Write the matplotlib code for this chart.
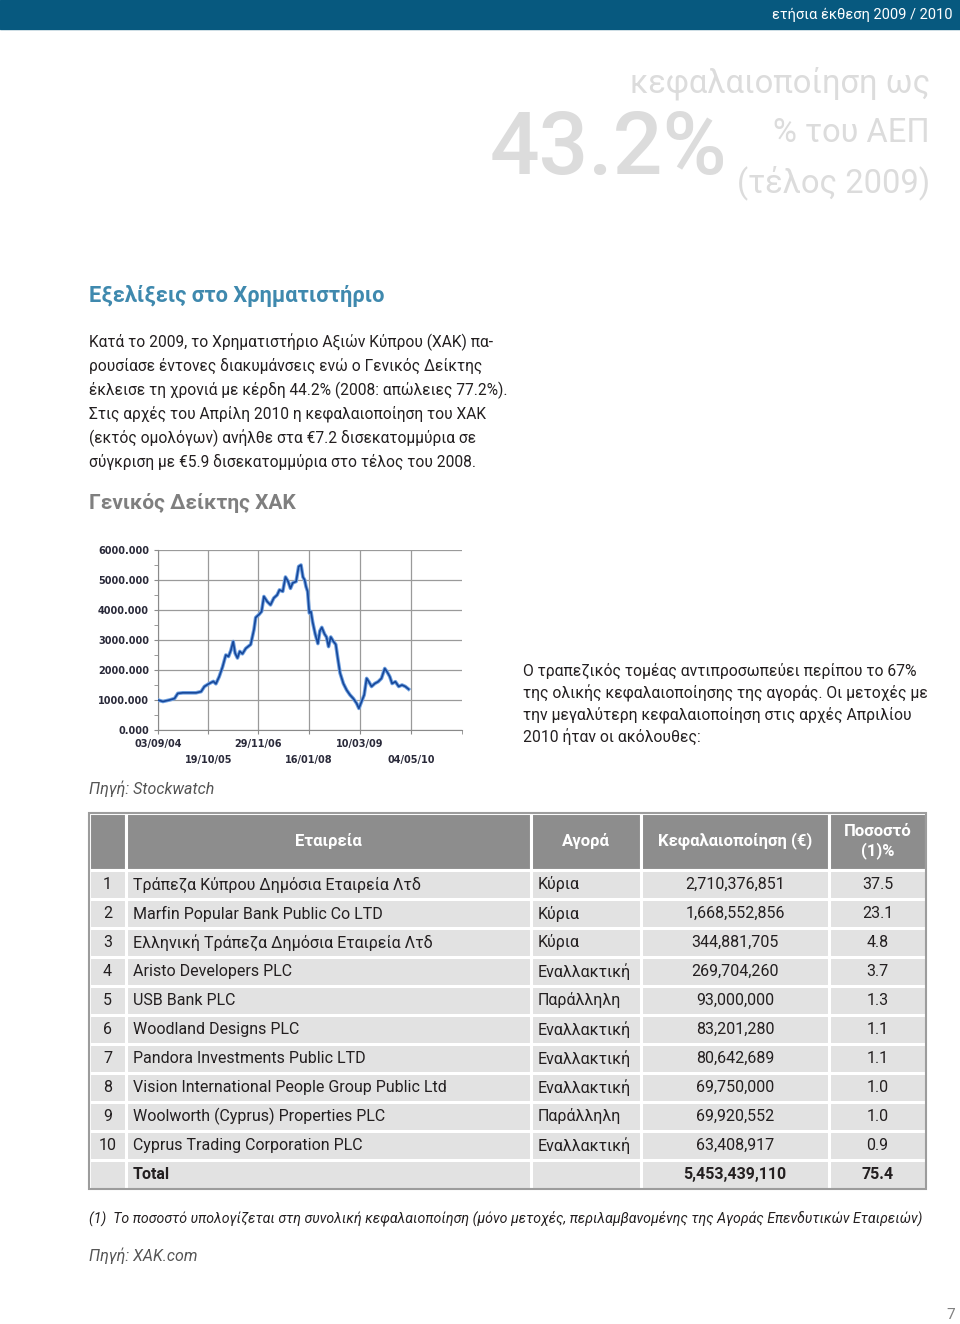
import matplotlib
matplotlib.use('Agg')
import matplotlib.pyplot as plt
from matplotlib.patches import Rectangle
from matplotlib.table import Table
import pandas as pd

plt.rcParams['font.family'] = ['Roboto', 'DejaVu Sans']

# General index of the Cyprus Stock Exchange
index_dates = ['2004-09-03', '2004-10-13', '2004-12-06', '2005-01-16', '2005-02-12', '2005-03-25',
               '2005-05-18', '2005-07-11', '2005-08-21', '2005-09-17', '2005-10-27', '2005-11-29',
               '2005-12-20', '2006-01-16', '2006-02-12', '2006-03-11', '2006-04-02', '2006-04-21',
               '2006-05-10', '2006-05-26', '2006-06-14', '2006-07-03', '2006-07-25', '2006-08-21',
               '2006-09-30', '2006-10-27', '2006-11-10', '2006-12-07', '2006-12-28', '2007-01-16',
               '2007-02-12', '2007-03-11', '2007-04-07', '2007-05-04', '2007-05-23', '2007-06-19',
               '2007-07-11', '2007-08-02', '2007-08-21', '2007-09-08', '2007-10-06', '2007-10-27',
               '2007-11-15', '2007-12-01', '2007-12-15', '2007-12-26', '2008-01-08', '2008-01-22',
               '2008-02-04', '2008-02-18', '2008-03-10', '2008-04-01', '2008-04-17', '2008-05-03',
               '2008-05-25', '2008-06-10', '2008-06-27', '2008-07-15', '2008-08-06', '2008-08-25',
               '2008-09-10', '2008-09-29', '2008-10-26', '2008-11-22', '2008-12-19', '2009-01-15',
               '2009-02-11', '2009-03-02', '2009-03-23', '2009-04-14', '2009-05-04', '2009-05-22',
               '2009-06-13', '2009-07-10', '2009-08-06', '2009-09-02', '2009-09-29', '2009-10-18',
               '2009-11-09', '2009-11-28', '2009-12-25', '2010-01-21', '2010-02-17', '2010-03-16',
               '2010-04-12']
index_values = [1000, 950, 1000, 1050, 1220, 1240,
                1240, 1240, 1280, 1450, 1550, 1620,
                1540, 1780, 2100, 2500, 2450, 2650,
                2950, 2560, 2400, 2620, 2540, 2720,
                2850, 3350, 3750, 3850, 3950, 4450,
                4280, 4170, 4400, 4500, 4670, 4620,
                5100, 4950, 4720, 4900, 4950, 5450,
                5500, 5100, 5000, 4780, 4620, 3900,
                3950, 3600, 3200, 2880, 3300, 3420,
                3200, 3100, 2780, 3100, 2950, 2850,
                2400, 1900, 1550, 1330, 1170, 1050,
                890, 720, 940, 1170, 1720, 1610,
                1450, 1550, 1610, 1720, 2050, 1940,
                1780, 1550, 1610, 1450, 1500, 1450,
                1360]

tick_dates = ['2004-09-03', '2005-10-19', '2006-11-29', '2008-01-16', '2009-03-10', '2010-05-04']
tick_labels = ['03/09/04', '19/10/05', '29/11/06', '16/01/08', '10/03/09', '04/05/10']
axis_end = '2011-06-22'
y_ticks = [0, 1000, 2000, 3000, 4000, 5000, 6000]

# Largest listed companies, April 2010
ranks = ['1', '2', '3', '4', '5', '6', '7', '8', '9', '10', '']
companies = ['Τράπεζα Κύπρου Δημόσια Εταιρεία Λτδ', 'Marfin Popular Bank Public Co LTD',
             'Ελληνική Τράπεζα Δημόσια Εταιρεία Λτδ', 'Aristo Developers PLC', 'USB Bank PLC',
             'Woodland Designs PLC', 'Pandora Investments Public LTD',
             'Vision International People Group Public Ltd', 'Woolworth (Cyprus) Properties PLC',
             'Cyprus Trading Corporation PLC', 'Total']
markets = ['Κύρια', 'Κύρια', 'Κύρια', 'Εναλλακτική', 'Παράλληλη', 'Εναλλακτική', 'Εναλλακτική',
           'Εναλλακτική', 'Παράλληλη', 'Εναλλακτική', '']
caps = ['2,710,376,851', '1,668,552,856', '344,881,705', '269,704,260', '93,000,000',
        '83,201,280', '80,642,689', '69,750,000', '69,920,552', '63,408,917', '5,453,439,110']
shares = ['37.5', '23.1', '4.8', '3.7', '1.3', '1.1', '1.1', '1.0', '1.0', '0.9', '75.4']
headers = ['', 'Εταιρεία', 'Αγορά', 'Κεφαλαιοποίηση (€)', 'Ποσοστό\n(1)%']

fig = plt.figure(figsize=(9.6, 13.24), dpi=100)
page = fig.add_axes([0, 0, 1, 1])
page.set_xlim(0, 960)
page.set_ylim(1324, 0)
page.axis('off')

# header band
page.add_patch(Rectangle((0, 0), 960, 29, color='#07597f'))
page.text(953, 15, 'ετήσια έκθεση 2009 / 2010', color='white', fontsize=10.5, ha='right', va='center')

# big figure
grey_big = '#dcdcdc'
page.text(490, 150, '43.2%', color=grey_big, fontsize=63, fontweight='medium', ha='left', va='center')
page.text(930, 83, 'κεφαλαιοποίηση ως', color=grey_big, fontsize=23.5, ha='right', va='center')
page.text(930, 133, '% του ΑΕΠ', color=grey_big, fontsize=23.5, ha='right', va='center')
page.text(930, 183, '(τέλος 2009)', color=grey_big, fontsize=23.5, ha='right', va='center')

page.text(89, 296, 'Εξελίξεις στο Χρηματιστήριο', color='#3f89ae', fontsize=15.7, fontweight='bold', va='center')
para = ['Κατά το 2009, το Χρηματιστήριο Αξιών Κύπρου (ΧΑΚ) πα-',
        'ρουσίασε έντονες διακυμάνσεις ενώ ο Γενικός Δείκτης',
        'έκλεισε τη χρονιά με κέρδη 44.2% (2008: απώλειες 77.2%).',
        'Στις αρχές του Απρίλη 2010 η κεφαλαιοποίηση του ΧΑΚ',
        '(εκτός ομολόγων) ανήλθε στα €7.2 δισεκατομμύρια σε',
        'σύγκριση με €5.9 δισεκατομμύρια στο τέλος του 2008.']
for i, line in enumerate(para):
    page.text(89, 342 + 24 * i, line, color='#231f20', fontsize=11.2, va='center')

page.text(89, 503, 'Γενικός Δείκτης ΧΑΚ', color='#7f7f7f', fontsize=15, fontweight='bold', va='center')

para2 = ['Ο τραπεζικός τομέας αντιπροσωπεύει περίπου το 67%',
         'της ολικής κεφαλαιοποίησης της αγοράς. Οι μετοχές με',
         'την μεγαλύτερη κεφαλαιοποίηση στις αρχές Απριλίου',
         '2010 ήταν οι ακόλουθες:']
for i, line in enumerate(para2):
    page.text(523, 671 + 22 * i, line, color='#231f20', fontsize=11.3, va='center')

page.text(89, 789, 'Πηγή: Stockwatch', color='#555555', fontsize=11.5, style='italic', va='center')

# index chart
ax = fig.add_axes([158 / 960, 1 - 730 / 1324, 304 / 960, 180 / 1324])
ax.plot(pd.to_datetime(index_dates), index_values, color='#6fa0e0', lw=2.6, zorder=3)
ax.plot(pd.to_datetime(index_dates), index_values, color='#17489a', lw=1.2, zorder=4)
ax.set_xlim(pd.Timestamp(tick_dates[0]), pd.Timestamp(axis_end))
ax.set_ylim(0, 6000)
ax.set_yticks(y_ticks)
ax.set_yticklabels(['%.3f' % v for v in y_ticks])
ax.set_yticks([v + 500 for v in y_ticks[:-1]], minor=True)
ax.set_xticks(pd.to_datetime(tick_dates))
ax.set_xticklabels([lbl if i % 2 == 0 else '\n' + lbl for i, lbl in enumerate(tick_labels)])
ax.set_xticks([pd.Timestamp(axis_end)], minor=True)
ax.grid(True, which='major', color='#9a9a9a', lw=0.9)
for s in ['top', 'right']:
    ax.spines[s].set_visible(False)
for s in ['left', 'bottom']:
    ax.spines[s].set_color('#8a8a8a')
ax.tick_params(which='both', colors='#8a8a8a', labelcolor='#2a2a3a', labelsize=7, length=3)
for lbl in ax.get_xticklabels() + ax.get_yticklabels():
    lbl.set_family('DejaVu Sans')
    lbl.set_fontweight('bold')
for lbl in ax.get_xticklabels():
    lbl.set_linespacing(1.7)

# companies table
col_w = [37, 405, 110, 188, 97]
row_h = 29
head_h = 57
tb_left, tb_top = 89, 813
n_rows = len(companies)
tb_h = head_h + row_h * n_rows
bbox = [tb_left / 960, 1 - (tb_top + tb_h) / 1324, sum(col_w) / 960, tb_h / 1324]
tbl = Table(page, bbox=bbox)
for c, h in enumerate(headers):
    cell = tbl.add_cell(0, c, width=col_w[c], height=head_h, text=h, loc='center',
                        facecolor='#8d8d8d', edgecolor='white')
    cell.get_text().set_color('white')
    cell.get_text().set_fontweight('bold')
columns = [ranks, companies, markets, caps, shares]
aligns = ['center', 'left', 'left', 'center', 'center']
for r in range(n_rows):
    for c, col in enumerate(columns):
        cell = tbl.add_cell(r + 1, c, width=col_w[c], height=row_h, text=col[r], loc=aligns[c],
                            facecolor='#e2e2e2', edgecolor='white')
        if aligns[c] == 'left':
            cell.PAD = 7 / col_w[c]
        cell.get_text().set_color('#231f20')
        if r == n_rows - 1:
            cell.get_text().set_fontweight('bold')
tbl.auto_set_font_size(False)
tbl.set_fontsize(11.5)
for (r, c), cell in tbl.get_celld().items():
    cell.set_linewidth(2.2)
    if r == 0:
        cell.get_text().set_fontsize(12)
page.add_table(tbl)
page.add_patch(Rectangle((tb_left, tb_top), sum(col_w), tb_h, fill=False, edgecolor='#9c9c9c', lw=1.5, zorder=5))

page.text(89, 1218, '(1)  Το ποσοστό υπολογίζεται στη συνολική κεφαλαιοποίηση (μόνο μετοχές, περιλαμβανομένης της Αγοράς Επενδυτικών Εταιρειών)',
          color='#231f20', fontsize=10.15, style='italic', va='center')
page.text(89, 1256, 'Πηγή: ΧΑΚ.com', color='#555555', fontsize=11.5, style='italic', va='center')
page.text(955, 1315, '7', color='#808080', fontsize=11, ha='right', va='center')

fig.savefig('out.png', dpi=100)
